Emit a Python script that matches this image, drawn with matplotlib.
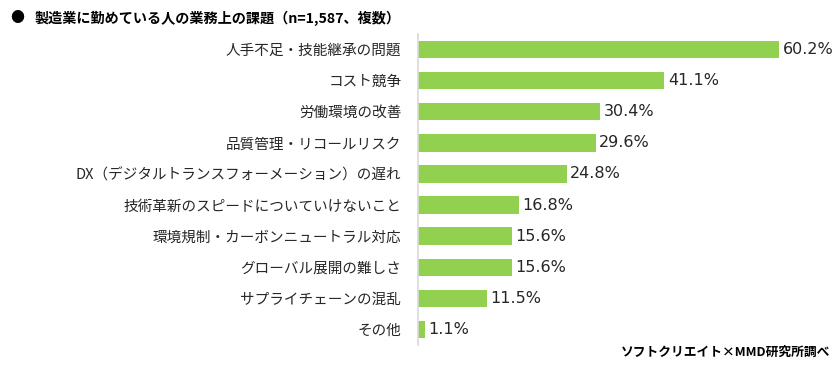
import matplotlib
matplotlib.use("Agg")
import matplotlib.pyplot as plt

plt.rcParams['font.family'] = ['Noto Sans CJK JP', 'DejaVu Sans']

# data
categories = [
    "人手不足・技能継承の問題",
    "コスト競争",
    "労働環境の改善",
    "品質管理・リコールリスク",
    "DX（デジタルトランスフォーメーション）の遅れ",
    "技術革新のスピードについていけないこと",
    "環境規制・カーボンニュートラル対応",
    "グローバル展開の難しさ",
    "サプライチェーンの混乱",
    "その他",
]
values = [60.2, 41.1, 30.4, 29.6, 24.8, 16.8, 15.6, 15.6, 11.5, 1.1]
value_labels = ["60.2%", "41.1%", "30.4%", "29.6%", "24.8%", "16.8%", "15.6%", "15.6%", "11.5%", "1.1%"]

W, H = 839, 366
fig = plt.figure(figsize=(W / 100, H / 100), dpi=100)
ax = fig.add_axes([418 / W, 1 - 345 / H, 421 / W, 311 / H])

ypos = list(range(len(categories)))
ax.barh(ypos, values, height=0.56, color="#92D050", edgecolor="none")
for y, v, lab in zip(ypos, values, value_labels):
    ax.text(v + 0.6, y, lab, va="center", ha="left", fontsize=11.5,
            family=["DejaVu Sans"], color="#262626")

ax.set_ylim(len(categories) - 0.5, -0.5)
ax.set_xlim(0, 70.2)
ax.set_yticks(ypos)
ax.set_yticklabels(categories, fontsize=10.5, color="#262626")
ax.tick_params(axis="y", length=0, pad=12)
ax.set_xticks([])
for s in ["top", "right", "bottom"]:
    ax.spines[s].set_visible(False)
ax.spines["left"].set_color("#d9d9d9")
ax.spines["left"].set_linewidth(1.2)

fig.text(10 / W, 1 - 18 / H, "●", fontsize=10, va="center", ha="left", color="black")
fig.text(35 / W, 1 - 18 / H, "製造業に勤めている人の業務上の課題（n=1,587、複数）",
         fontsize=10.2, fontweight="bold", va="center", ha="left", color="black")
fig.text(830 / W, 1 - 352 / H, "ソフトクリエイト×MMD研究所調べ",
         fontsize=9.2, fontweight="bold", va="center", ha="right", color="black")

fig.savefig("out.png", dpi=100)
